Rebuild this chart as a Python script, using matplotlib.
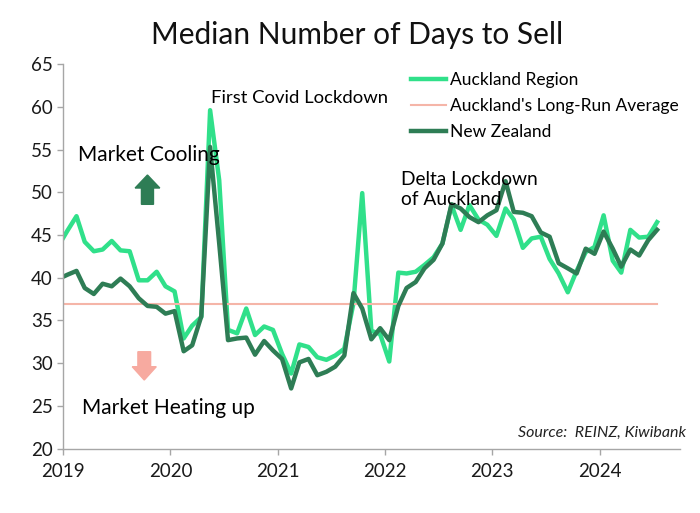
import numpy as np
import pandas as pd
import matplotlib
matplotlib.use("Agg")
import matplotlib.pyplot as plt
import matplotlib.dates as mdates
from matplotlib.patches import FancyArrow

plt.rcParams['font.family'] = ['Lato', 'DejaVu Sans']

# monthly data, Dec 2018 - Jul 2024 (points sit mid-month)
months = pd.date_range("2018-12-01", "2024-07-01", freq="MS") + pd.Timedelta(days=14)

auckland = [43.7,
            45.5, 47.2, 44.2, 43.1, 43.3, 44.3, 43.2, 43.1, 39.7, 39.7, 40.7, 39.0,
            38.4, 32.9, 34.4, 35.4, 59.6, 51.4, 33.9, 33.5, 36.4, 33.3, 34.3, 33.9,
            31.1, 28.8, 32.2, 31.9, 30.7, 30.4, 30.9, 31.7, 37.0, 49.9, 33.8, 33.4,
            30.2, 40.6, 40.5, 40.7, 41.5, 42.4, 44.0, 48.5, 45.6, 48.5, 46.8, 46.2,
            44.9, 48.1, 46.8, 43.5, 44.6, 44.8, 42.2, 40.5, 38.3, 40.8, 43.0, 43.6,
            47.3, 42.0, 40.6, 45.6, 44.7, 44.8, 46.5]

new_zealand = [39.85,
               40.35, 40.8, 38.8, 38.1, 39.3, 39.0, 39.9, 39.0, 37.6, 36.7, 36.6, 35.8,
               36.1, 31.4, 32.1, 35.5, 55.3, 44.0, 32.7, 32.9, 33.0, 31.0, 32.6, 31.5,
               30.5, 27.05, 30.1, 30.5, 28.6, 29.0, 29.6, 30.9, 38.2, 36.4, 32.8, 34.1,
               32.7, 36.7, 38.8, 39.5, 41.1, 42.1, 44.0, 48.6, 48.1, 47.1, 46.5, 47.3,
               47.9, 51.3, 47.7, 47.6, 47.2, 45.3, 44.8, 41.7, 41.1, 40.5, 43.4, 42.8,
               45.4, 43.4, 41.3, 43.3, 42.6, 44.4, 45.6]

long_run_avg = 36.9

light_green = "#30e08a"
dark_green = "#2e7d55"
pink = "#f5b5a8"

fig = plt.figure(figsize=(7, 5.13), dpi=100)
ax = fig.add_axes([0.0904, 0.1253, 0.881, 0.7499])

ax.plot(months, auckland, color=light_green, lw=3.2, label="Auckland Region")
ax.plot(months, [long_run_avg] * len(months), color=pink, lw=1.5,
        label="Auckland's Long-Run Average")
ax.plot(months, new_zealand, color=dark_green, lw=3.2, label="New Zealand")

ax.set_xlim(pd.Timestamp("2019-01-01"), pd.Timestamp("2024-10-01"))
ax.set_ylim(20, 65)
ax.set_yticks(np.arange(20, 66, 5))
ax.xaxis.set_major_locator(mdates.YearLocator())
ax.xaxis.set_major_formatter(mdates.DateFormatter("%Y"))

for s in ["top", "right"]:
    ax.spines[s].set_visible(False)
for s in ["left", "bottom"]:
    ax.spines[s].set_color("#a6a6a6")
    ax.spines[s].set_linewidth(1.0)
ax.tick_params(axis="both", colors="#a6a6a6", labelcolor="#1a1a1a",
               labelsize=13.5, length=4, width=1)
ax.tick_params(axis="x", pad=6)

leg = ax.legend(loc="upper left", bbox_to_anchor=(411 / 700, 1 - 72.5 / 513),
                bbox_transform=fig.transFigure, frameon=False, fontsize=12.5,
                handlelength=2.0, handletextpad=0.25, labelspacing=0.55,
                borderpad=0, borderaxespad=0)

def fx(px):
    return px / 700

def fy(py):
    return 1 - py / 513

fig.text(fx(357), fy(44), "Median Number of Days to Sell", ha="center",
         va="baseline", fontsize=21.5, color="#111111")
fig.text(fx(211), fy(103), "First Covid Lockdown", fontsize=13.3, va="baseline")
fig.text(fx(78), fy(161), "Market Cooling", fontsize=15, va="baseline")
fig.text(fx(82), fy(414), "Market Heating up", fontsize=15, va="baseline")
fig.text(fx(401), fy(185), "Delta Lockdown", fontsize=13.8, va="baseline")
fig.text(fx(401), fy(205), "of Auckland", fontsize=13.8, va="baseline")
fig.text(fx(686), fy(437), "Source:  REINZ, Kiwibank", fontsize=11.5,
         style="italic", ha="right", va="baseline", color="#222222")

# up / down arrows (axes fraction)
ax.add_patch(FancyArrow(0.1365, 0.6353, 0, 0.0762, width=0.0195,
                        head_width=0.040, head_length=0.0338,
                        length_includes_head=True, color=dark_green,
                        transform=ax.transAxes))
ax.add_patch(FancyArrow(0.1313, 0.2521, 0, -0.0735, width=0.0206,
                        head_width=0.039, head_length=0.0346,
                        length_includes_head=True, color="#f7aaa0",
                        transform=ax.transAxes))

fig.savefig("out.png", dpi=100)
